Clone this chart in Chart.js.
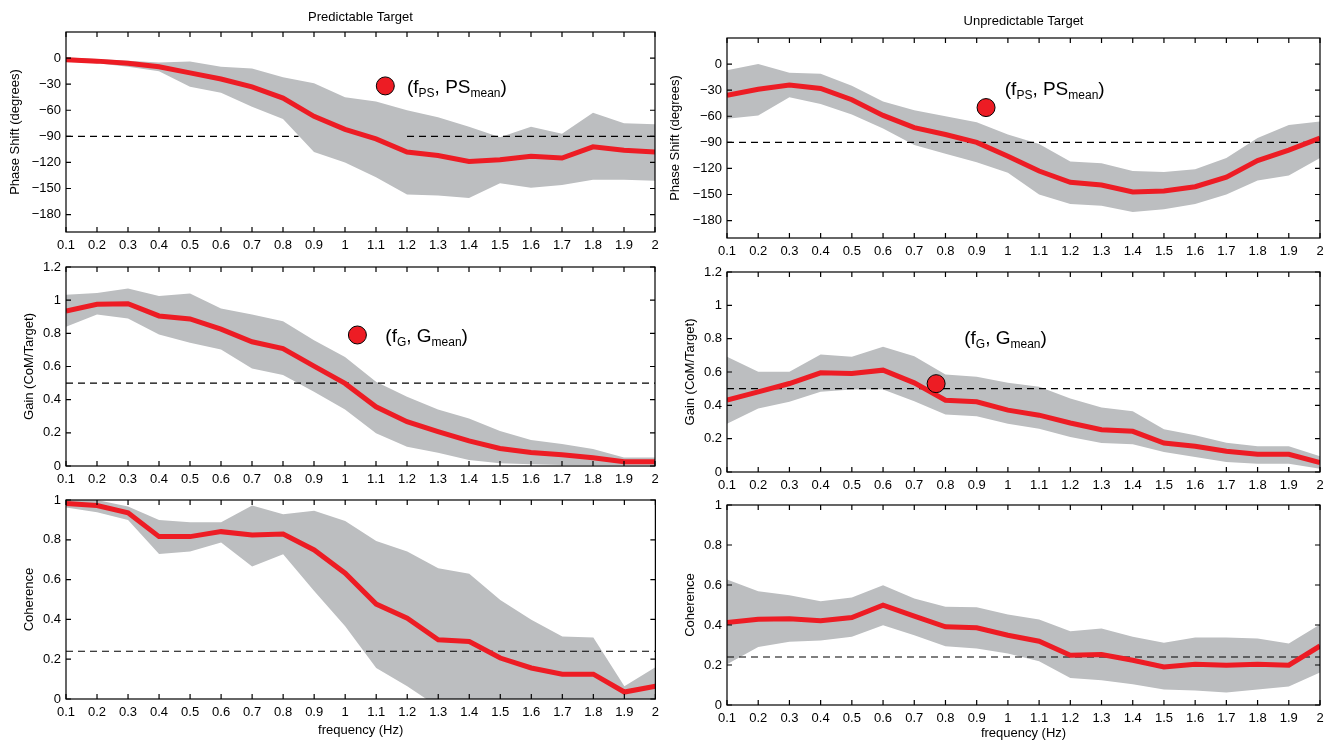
<!DOCTYPE html>
<html>
<head>
<meta charset="utf-8">
<script src="https://cdn.jsdelivr.net/npm/chart.js@4.4.0/dist/chart.umd.min.js"></script>
<style>
  html, body { margin: 0; padding: 0; background: #fff; overflow: hidden; width: 1330px; height: 741px; }
  canvas { position: absolute; }
</style>
</head>
<body>
<canvas id="predPhase"></canvas>
<canvas id="predGain"></canvas>
<canvas id="predCoh"></canvas>
<canvas id="unpredPhase"></canvas>
<canvas id="unpredGain"></canvas>
<canvas id="unpredCoh"></canvas>
<script>
// frequencies (Hz) and tick sets
const freq = [0.1, 0.2, 0.3, 0.4, 0.5, 0.6, 0.7, 0.8, 0.9, 1, 1.1, 1.2, 1.3, 1.4, 1.5, 1.6, 1.7, 1.8, 1.9, 2];
const phaseTicks = [-180, -150, -120, -90, -60, -30, 0];
const gainTicks = [0, 0.2, 0.4, 0.6, 0.8, 1, 1.2];
const cohTicks = [0, 0.2, 0.4, 0.6, 0.8, 1];

// reference (dashed) levels
const phaseRef = -90;
const gainRef = 0.5;
const cohRef = 0.24;

// predictable target
const predPhaseMean = [-2, -3.5, -6, -10, -17, -24, -33, -46, -67, -82, -93, -108, -112, -119, -117, -113, -115, -102, -106, -108];
const predPhaseUpper = [1, -1, -3, -5, -4, -10, -12, -22, -29, -45, -50, -60, -68, -79, -91, -79, -87, -63, -75, -76];
const predPhaseLower = [-4, -6, -10, -15, -33, -40, -56, -70, -108, -120, -137, -157, -158, -161, -144, -149, -146, -140, -140, -141];
const predPhaseRefSpans = [[0.1, 0.85], [1.2, 2]];
const predPhaseMark = [1.13, -32];

const predGainMean = [0.935, 0.975, 0.979, 0.905, 0.887, 0.825, 0.749, 0.708, 0.602, 0.498, 0.357, 0.267, 0.207, 0.151, 0.106, 0.082, 0.068, 0.05, 0.026, 0.026];
const predGainUpper = [1.033, 1.043, 1.07, 1.025, 1.04, 0.95, 0.913, 0.873, 0.759, 0.658, 0.508, 0.417, 0.341, 0.287, 0.211, 0.157, 0.132, 0.102, 0.052, 0.052];
const predGainLower = [0.839, 0.913, 0.889, 0.793, 0.743, 0.702, 0.588, 0.548, 0.448, 0.341, 0.197, 0.116, 0.08, 0.036, 0.016, 0.01, 0.006, 0.006, 0.006, 0.006];
const predGainMark = [1.04, 0.79];

const predCohMean = [0.983, 0.972, 0.936, 0.816, 0.816, 0.841, 0.824, 0.829, 0.749, 0.632, 0.477, 0.406, 0.298, 0.289, 0.206, 0.156, 0.125, 0.125, 0.035, 0.064];
const predCohUpper = [1.0, 1.0, 0.967, 0.9, 0.888, 0.888, 0.972, 0.928, 0.946, 0.895, 0.794, 0.741, 0.657, 0.629, 0.498, 0.398, 0.314, 0.309, 0.064, 0.159];
const predCohLower = [0.962, 0.938, 0.9, 0.729, 0.741, 0.786, 0.666, 0.727, 0.543, 0.365, 0.156, 0.064, -0.04, -0.06, -0.1, -0.1, -0.1, -0.1, -0.05, -0.05];

// unpredictable target
const unpredPhaseMean = [-36, -29, -24, -28, -41, -59, -73, -81, -90, -106, -123, -136, -139, -147, -146, -141, -130, -111, -99, -85];
const unpredPhaseUpper = [-7, 0, -10, -11, -25, -43, -53, -60, -67, -81, -92, -112, -114, -123, -124, -121, -108, -85, -70, -66];
const unpredPhaseLower = [-63, -59, -38, -46, -58, -74, -93, -103, -113, -125, -150, -161, -163, -170, -167, -161, -150, -134, -128, -108];
const unpredPhaseMark = [0.93, -50];

const unpredGainMean = [0.431, 0.481, 0.531, 0.595, 0.591, 0.611, 0.535, 0.431, 0.421, 0.371, 0.341, 0.294, 0.254, 0.244, 0.174, 0.154, 0.124, 0.106, 0.106, 0.056];
const unpredGainUpper = [0.691, 0.601, 0.601, 0.705, 0.691, 0.751, 0.695, 0.585, 0.571, 0.535, 0.511, 0.441, 0.387, 0.365, 0.256, 0.22, 0.176, 0.154, 0.154, 0.094];
const unpredGainLower = [0.29, 0.381, 0.421, 0.481, 0.495, 0.495, 0.425, 0.345, 0.335, 0.29, 0.26, 0.21, 0.174, 0.166, 0.12, 0.09, 0.06, 0.05, 0.05, 0.02];
const unpredGainMark = [0.77, 0.53];

const unpredCohMean = [0.412, 0.429, 0.431, 0.421, 0.437, 0.499, 0.444, 0.391, 0.386, 0.349, 0.319, 0.249, 0.252, 0.224, 0.19, 0.204, 0.199, 0.204, 0.199, 0.295];
const unpredCohUpper = [0.628, 0.569, 0.549, 0.519, 0.538, 0.599, 0.533, 0.491, 0.489, 0.452, 0.427, 0.369, 0.382, 0.341, 0.311, 0.337, 0.337, 0.332, 0.307, 0.402];
const unpredCohLower = [0.204, 0.29, 0.316, 0.322, 0.341, 0.399, 0.349, 0.294, 0.282, 0.257, 0.219, 0.135, 0.124, 0.104, 0.078, 0.073, 0.062, 0.077, 0.093, 0.162];

const fullSpan = [[0.1, 2]];
const RED = '#ED1C24';
const GRAY = '#BCBEC0';
const FONT = '"Liberation Sans", Arial, sans-serif';
const COL_W = 665;

const fmt = v => String(v).replace('-', '\u2212');
const pts = ys => freq.map((f, i) => ({ x: f, y: ys[i] }));

// MATLAB-like box with inward ticks on all four sides
const boxPlugin = {
  id: 'box',
  afterDatasetsDraw(chart) {
    const { ctx, chartArea: a, scales: { x, y } } = chart;
    ctx.save();
    ctx.strokeStyle = '#000';
    ctx.lineWidth = 1.2;
    ctx.beginPath();
    x.ticks.forEach(t => {
      const px = x.getPixelForValue(t.value);
      ctx.moveTo(px, a.bottom); ctx.lineTo(px, a.bottom - 5);
      ctx.moveTo(px, a.top); ctx.lineTo(px, a.top + 5);
    });
    y.ticks.forEach(t => {
      const py = y.getPixelForValue(t.value);
      ctx.moveTo(a.left, py); ctx.lineTo(a.left + 5, py);
      ctx.moveTo(a.right, py); ctx.lineTo(a.right - 5, py);
    });
    ctx.stroke();
    ctx.strokeRect(a.left, a.top, a.right - a.left, a.bottom - a.top);
    ctx.restore();
  }
};

// "(f_X, X_mean)" note with subscripts
const notePlugin = {
  id: 'note',
  afterDatasetsDraw(chart, args, opts) {
    if (!opts.parts) return;
    const { ctx, scales: { x, y } } = chart;
    let px = x.getPixelForValue(opts.at[0]);
    const py = y.getPixelForValue(opts.at[1]);
    ctx.save();
    ctx.fillStyle = '#000';
    ctx.textBaseline = 'alphabetic';
    opts.parts.forEach(([text, sub]) => {
      ctx.font = (sub ? 12 : 19) + 'px ' + FONT;
      ctx.fillText(text, px, py + (sub ? 11 : 7));
      px += ctx.measureText(text).width;
    });
    ctx.restore();
  }
};

function refLine(level, spans) {
  const out = [];
  spans.forEach((s, i) => {
    if (i) out.push({ x: s[0], y: null });
    out.push({ x: s[0], y: level }, { x: s[1], y: level });
  });
  return out;
}

function panel(id, o) {
  const cv = document.getElementById(id);
  const colLeft = o.col * COL_W;
  const [x0, y0, x1, y1] = o.area;
  const H = y1 - y0 + 30 + 48;
  cv.width = COL_W;
  cv.height = H;
  cv.style.left = colLeft + 'px';
  cv.style.top = (y0 - 30) + 'px';

  const datasets = [
    { data: o.mark ? [{ x: o.mark[0], y: o.mark[1] }] : [], showLine: false, pointRadius: 9,
      pointBackgroundColor: RED, pointBorderColor: '#000', pointBorderWidth: 1, order: 0 },
    { data: pts(o.mean), borderColor: RED, borderWidth: 5, pointRadius: 0, order: 1 },
    { data: refLine(o.ref, o.refSpans || fullSpan), borderColor: '#000', borderWidth: 1.2,
      borderDash: [7, 5], pointRadius: 0, spanGaps: false, order: 2 },
    { data: pts(o.upper), borderColor: 'transparent', borderWidth: 0, backgroundColor: GRAY,
      fill: '+1', pointRadius: 0, order: 3 },
    { data: pts(o.lower), borderColor: 'transparent', borderWidth: 0, fill: false, pointRadius: 0, order: 4 }
  ];

  const tickFont = { family: FONT, size: 13 };
  const titleFont = { family: FONT, size: 13 };

  new Chart(cv, {
    type: 'line',
    data: { datasets },
    plugins: [boxPlugin, notePlugin],
    options: {
      responsive: false,
      animation: false,
      events: [],
      layout: { padding: { top: o.title ? 0 : 30, left: 0, right: colLeft + COL_W - x1, bottom: 0 } },
      plugins: {
        legend: { display: false },
        tooltip: { enabled: false },
        title: o.title ? {
          display: true, text: o.title, fullSize: false, color: '#000',
          font: { family: FONT, size: 13, weight: 'normal' },
          padding: { top: o.titlePad, bottom: 30 - 15.6 - o.titlePad }
        } : { display: false },
        note: o.note || {}
      },
      scales: {
        x: {
          type: 'linear', min: 0.1, max: 2,
          grid: { display: false, drawTicks: false },
          border: { display: false },
          afterBuildTicks: s => { s.ticks = freq.map(v => ({ value: v })); },
          afterFit: s => { s.height = 48; },
          ticks: { autoSkip: false, maxRotation: 0, padding: 6, color: '#000', font: tickFont, callback: v => fmt(v) },
          title: o.xPad != null ? {
            display: true, text: 'frequency (Hz)', color: '#000', font: titleFont,
            padding: { top: 0, bottom: o.xPad }
          } : { display: false }
        },
        y: {
          type: 'linear', min: o.yRange[0], max: o.yRange[1],
          grid: { display: false, drawTicks: false },
          border: { display: false },
          afterBuildTicks: s => { s.ticks = o.yTicks.map(v => ({ value: v })); },
          afterFit: s => { s.width = x0 - colLeft; },
          ticks: { autoSkip: false, padding: 5, color: '#000', font: tickFont, callback: v => fmt(v) },
          title: {
            display: true, text: o.yTitle, color: '#000', font: titleFont,
            padding: { top: o.yPad, bottom: 0 }
          }
        }
      }
    }
  });
}

const psNote = [['(f'], ['PS', true], [', PS'], ['mean', true], [')']];
const gNote = [['(f'], ['G', true], [', G'], ['mean', true], [')']];

panel('predPhase', {
  col: 0, area: [66, 32, 657, 232], title: 'Predictable Target', titlePad: 7.2,
  yRange: [-200, 30], yTicks: phaseTicks, yTitle: 'Phase Shift (degrees)', yPad: 7.2,
  mean: predPhaseMean, upper: predPhaseUpper, lower: predPhaseLower,
  ref: phaseRef, refSpans: predPhaseRefSpans, mark: predPhaseMark,
  note: { parts: psNote, at: [1.2, -32] }
});
panel('predGain', {
  col: 0, area: [66, 267, 657, 466],
  yRange: [0, 1.2], yTicks: gainTicks, yTitle: 'Gain (CoM/Target)', yPad: 21.2,
  mean: predGainMean, upper: predGainUpper, lower: predGainLower,
  ref: gainRef, mark: predGainMark,
  note: { parts: gNote, at: [1.13, 0.79] }
});
panel('predCoh', {
  col: 0, area: [66, 500, 657, 699],
  yRange: [0, 1], yTicks: cohTicks, yTitle: 'Coherence', yPad: 21.2, xPad: 9.2,
  mean: predCohMean, upper: predCohUpper, lower: predCohLower,
  ref: cohRef
});
panel('unpredPhase', {
  col: 1, area: [727, 38, 1320, 238], title: 'Unpredictable Target', titlePad: 5.2,
  yRange: [-200, 30], yTicks: phaseTicks, yTitle: 'Phase Shift (degrees)', yPad: 2.7,
  mean: unpredPhaseMean, upper: unpredPhaseUpper, lower: unpredPhaseLower,
  ref: phaseRef, mark: unpredPhaseMark,
  note: { parts: psNote, at: [0.99, -28] }
});
panel('unpredGain', {
  col: 1, area: [727, 272, 1320, 472],
  yRange: [0, 1.2], yTicks: gainTicks, yTitle: 'Gain (CoM/Target)', yPad: 17.2,
  mean: unpredGainMean, upper: unpredGainUpper, lower: unpredGainLower,
  ref: gainRef, mark: unpredGainMark,
  note: { parts: gNote, at: [0.86, 0.81] }
});
panel('unpredCoh', {
  col: 1, area: [727, 505, 1320, 705],
  yRange: [0, 1], yTicks: cohTicks, yTitle: 'Coherence', yPad: 17.2, xPad: 12.2,
  mean: unpredCohMean, upper: unpredCohUpper, lower: unpredCohLower,
  ref: cohRef
});
</script>
</body>
</html>
